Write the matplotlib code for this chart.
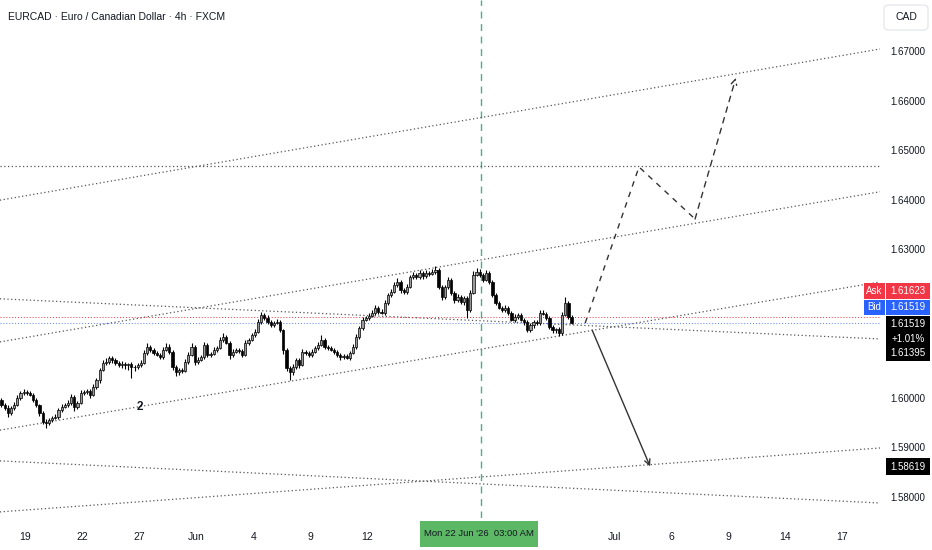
import matplotlib
matplotlib.use("Agg")
import matplotlib.pyplot as plt
import matplotlib.patches as patches
import numpy as np

# Dane świec EURCAD 4h, kolejne świece 4h
first_open = 1.5996
closes = [
    1.5986, 1.5980, 1.5970, 1.5980, 1.5986, 1.6000, 1.6010, 1.6012, 1.6010, 1.6006,
    1.5996, 1.5986, 1.5970, 1.5952, 1.5950, 1.5956, 1.5960, 1.5962, 1.5976, 1.5982,
    1.5986, 1.5990, 1.6002, 1.5982, 1.5990, 1.6010, 1.6012, 1.6014, 1.6006, 1.6022,
    1.6036, 1.6057, 1.6071, 1.6073, 1.6081, 1.6077, 1.6071, 1.6067, 1.6069, 1.6066,
    1.6068, 1.6063, 1.6062, 1.6067, 1.6071, 1.6091, 1.6103, 1.6097, 1.6091, 1.6087,
    1.6083, 1.6097, 1.6103, 1.6093, 1.6063, 1.6052, 1.6057, 1.6055, 1.6073, 1.6087,
    1.6103, 1.6073, 1.6077, 1.6083, 1.6107, 1.6087, 1.6089, 1.6097, 1.6101, 1.6117,
    1.6123, 1.6111, 1.6087, 1.6093, 1.6097, 1.6095, 1.6087, 1.6111, 1.6117, 1.6127,
    1.6133, 1.6154, 1.6168, 1.6162, 1.6154, 1.6147, 1.6152, 1.6154, 1.6137, 1.6097,
    1.6061, 1.6052, 1.6063, 1.6077, 1.6067, 1.6093, 1.6091, 1.6087, 1.6093, 1.6101,
    1.6107, 1.6117, 1.6103, 1.6101, 1.6097, 1.6093, 1.6087, 1.6083, 1.6085, 1.6081,
    1.6091, 1.6103, 1.6123, 1.6141, 1.6158, 1.6162, 1.6166, 1.6172, 1.6182, 1.6174,
    1.6172, 1.6192, 1.6208, 1.6214, 1.6228, 1.6234, 1.6218, 1.6214, 1.6224, 1.6243,
    1.6249, 1.6243, 1.6253, 1.6245, 1.6253, 1.6251, 1.6255, 1.6259, 1.6224, 1.6204,
    1.6224, 1.6238, 1.6212, 1.6198, 1.6204, 1.6194, 1.6202, 1.6178, 1.6212, 1.6249,
    1.6255, 1.6249, 1.6238, 1.6253, 1.6234, 1.6208, 1.6192, 1.6182, 1.6178, 1.6182,
    1.6172, 1.6158, 1.6164, 1.6168, 1.6158, 1.6154, 1.6137, 1.6147, 1.6154, 1.6152,
    1.6172, 1.6170, 1.6162, 1.6143, 1.6137, 1.6139, 1.6131, 1.6168, 1.6192, 1.6164,
    1.61519,
]
# knoty (w pipsach) ponad / poniżej korpusu
upper_wick = [
    4, 3, 5, 4, 6, 5, 4, 6, 3, 4,
    3, 4, 2, 3, 5, 4, 3, 6, 4, 5,
    4, 6, 5, 3, 4, 5, 4, 3, 4, 6,
    5, 4, 6, 8, 4, 3, 4, 3, 5, 4,
    3, 4, 3, 4, 5, 6, 8, 4, 3, 4,
    3, 5, 8, 6, 3, 4, 3, 4, 5, 6,
    7, 4, 5, 4, 6, 3, 4, 5, 4, 6,
    8, 4, 3, 5, 4, 3, 4, 6, 4, 5,
    6, 5, 6, 4, 5, 3, 4, 5, 4, 3,
    3, 4, 5, 4, 3, 6, 4, 3, 5, 4,
    6, 10, 4, 3, 4, 3, 4, 3, 4, 3,
    4, 5, 6, 4, 5, 4, 5, 6, 6, 4,
    5, 6, 4, 5, 6, 8, 4, 3, 5, 6,
    5, 4, 6, 4, 5, 4, 5, 8, 4, 3,
    4, 6, 3, 4, 5, 4, 3, 4, 6, 8,
    8, 6, 4, 5, 4, 3, 4, 3, 4, 5,
    3, 4, 5, 4, 3, 4, 3, 5, 4, 3,
    6, 5, 4, 3, 4, 3, 4, 6, 12, 4,
    3,
]
lower_wick = [
    5, 4, 8, 5, 4, 3, 4, 5, 4, 3,
    4, 5, 6, 5, 10, 4, 5, 3, 4, 4,
    3, 5, 4, 8, 4, 3, 4, 5, 6, 3,
    4, 5, 3, 4, 5, 6, 4, 5, 6, 8,
    10, 22, 8, 4, 5, 3, 4, 5, 4, 3,
    5, 4, 3, 4, 6, 8, 5, 4, 3, 4,
    3, 6, 4, 3, 4, 5, 4, 3, 4, 3,
    4, 3, 8, 4, 3, 5, 4, 3, 4, 3,
    4, 3, 4, 5, 4, 3, 4, 3, 4, 8,
    6, 16, 5, 4, 6, 3, 4, 5, 4, 3,
    4, 3, 5, 4, 3, 4, 5, 6, 4, 3,
    4, 3, 4, 5, 4, 3, 4, 3, 5, 4,
    3, 4, 5, 4, 3, 4, 6, 5, 4, 3,
    4, 3, 4, 5, 3, 4, 3, 4, 5, 6,
    4, 5, 4, 6, 5, 4, 6, 16, 4, 3,
    4, 5, 4, 3, 4, 5, 4, 3, 5, 4,
    4, 3, 5, 4, 3, 6, 4, 3, 5, 4,
    4, 3, 5, 4, 6, 5, 6, 4, 3, 4,
    3,
]

# oś czasu: dni handlowe od 19 maja, 6 świec 4h na dzień
tick_days = [0, 3, 6, 9, 12, 15, 18, 31, 34, 37, 40, 43]
tick_labels = ['19', '22', '27', 'Jun', '4', '9', '12', 'Jul', '6', '9', '14', '17']
crosshair_day = 24
crosshair_text = "Mon 22 Jun '26  03:00 AM"

price_ticks = [1.58, 1.59, 1.60, 1.63, 1.64, 1.65, 1.66, 1.67]
ask_price = 1.61623
bid_price = 1.61519
last_price = 1.61519
change_pct = '+1.01%'
other_price = 1.61395
target_price = 1.58619

# linie trendu (indeks świecy, cena)
trend_lines = [
    [(-0.5, 1.6399), (277.4, 1.6704)],
    [(-0.5, 1.6467), (277.4, 1.6467)],
    [(-0.5, 1.6113), (277.4, 1.6416)],
    [(-0.5, 1.5935), (277.4, 1.6234)],
    [(-0.5, 1.6200), (277.4, 1.6119)],
    [(-0.5, 1.5873), (277.4, 1.5788)],
    [(-0.5, 1.5770), (277.4, 1.5899)],
]
bull_path_x = [184.3, 201.3, 219.0, 231.9]
bull_path_y = [1.6151, 1.6466, 1.6361, 1.6646]
bear_arrow_x = [186.5, 204.8]
bear_arrow_y = [1.6137, 1.58619]
wave_label = ('2', 43.7, 1.5982)

W, H = 932, 550
FONT = ['Liberation Sans', 'DejaVu Sans']
TXT = '#131722'

fig = plt.figure(figsize=(W / 100, H / 100), dpi=100)
fig.patch.set_facecolor('white')
ax = fig.add_axes([0, 32 / H, 880 / W, 518 / H])
ax.set_facecolor('white')

def fx(px):
    return px / W

def fy(py):
    return 1 - py / H

# świece
n = len(closes)
opens = [first_open] + closes[:-1]
xs = np.arange(n)
o = np.array(opens)
c = np.array(closes)
top = np.maximum(o, c)
bot = np.minimum(o, c)
hi = top + np.array(upper_wick) * 1e-4
lo = bot - np.array(lower_wick) * 1e-4
up = c >= o
ax.vlines(xs, lo, hi, color='black', lw=0.8, zorder=3)
heights = np.maximum(top - bot, 0.0001)
ax.bar(xs, heights, bottom=bot, width=0.72,
       color=np.where(up, '#9a9a9a', '#000000'), edgecolor='black', linewidth=0.5, zorder=4)

# linie trendu
for seg in trend_lines:
    ax.plot([seg[0][0], seg[1][0]], [seg[0][1], seg[1][1]], color='#555555',
            lw=0.9, linestyle=(0, (1, 2)), zorder=2)

# linie ask / bid
ax.axhline(ask_price, color='#f23645', lw=0.7, linestyle=(0, (1, 2)), zorder=2)
ax.axhline(bid_price, color='#2962ff', lw=0.7, linestyle=(0, (1, 2)), alpha=0.8, zorder=2)

# crosshair
cross_x = 7.5 + 6 * crosshair_day
ax.axvline(cross_x, color='#26a17a', lw=1.0, linestyle=(0, (5, 4)), alpha=0.85, zorder=1)

# scenariusze
ax.plot(bull_path_x[:-1], bull_path_y[:-1], color='#333333', lw=1, linestyle=(0, (4, 4)), zorder=5)
ax.annotate('', xy=(bull_path_x[-1], bull_path_y[-1]), xytext=(bull_path_x[-2], bull_path_y[-2]),
            arrowprops=dict(arrowstyle='->', color='#333333', lw=1, linestyle=(0, (4, 4)),
                            shrinkA=0, shrinkB=0), zorder=5)
ax.annotate('', xy=(bear_arrow_x[1], bear_arrow_y[1]), xytext=(bear_arrow_x[0], bear_arrow_y[0]),
            arrowprops=dict(arrowstyle='->', color='#333333', lw=1, shrinkA=0, shrinkB=0), zorder=5)
ax.text(wave_label[1], wave_label[2], wave_label[0], fontsize=8.5, fontweight='bold',
        color=TXT, ha='center', va='center', family=FONT, zorder=6)

ax.set_xlim(-0.47, 277.4)
ax.set_ylim(1.575771, 1.680291)
for s in ax.spines.values():
    s.set_visible(False)

ax.set_xticks([7.5 + 6 * d for d in tick_days])
ax.set_xticklabels(tick_labels, fontsize=7.5, color=TXT, family=FONT)
ax.tick_params(axis='x', length=0, pad=10)
ax.yaxis.tick_right()
ax.set_yticks(price_ticks)
ax.set_yticklabels([f'{p:.5f}' for p in price_ticks], fontsize=7, color=TXT, family=FONT)
ax.tick_params(axis='y', length=0, pad=7.5)

# tytuł
fig.text(fx(8), fy(17), 'EURCAD · Euro / Canadian Dollar · 4h · FXCM', fontsize=7.5,
         color=TXT, ha='left', va='center', family=FONT)

def box(x0, y0, x1, y1, color, edge='none', rounded=False):
    if rounded:
        p = patches.FancyBboxPatch((fx(x0), fy(y1)), fx(x1) - fx(x0), fy(y0) - fy(y1),
                                   boxstyle='round,pad=0,rounding_size=0.006',
                                   transform=fig.transFigure, facecolor=color, edgecolor=edge, lw=0.8)
    else:
        p = patches.Rectangle((fx(x0), fy(y1)), fx(x1) - fx(x0), fy(y0) - fy(y1),
                              transform=fig.transFigure, facecolor=color, edgecolor=edge, lw=0.8)
    fig.add_artist(p)

def label(x, y, s, color='white', size=7, ha='center'):
    fig.text(fx(x), fy(y), s, fontsize=size, color=color, ha=ha, va='center', family=FONT)

# waluta
box(884, 5, 928, 30, 'white', edge='#e0e3eb', rounded=True)
label(906, 17.5, 'CAD', color=TXT, size=7.5)

# etykiety ask / bid / ostatnia cena
box(864, 283, 885, 299, '#f23645')
box(886, 283, 930, 299, '#f23645')
label(874.5, 291, 'Ask')
label(908, 291, f'{ask_price:.5f}')
box(864, 300, 885, 315, '#2962ff')
box(886, 300, 930, 315, '#2962ff')
label(874.5, 307.5, 'Bid')
label(908, 307.5, f'{bid_price:.5f}')
box(886, 316, 930, 361, '#000000')
label(908, 324, f'{last_price:.5f}')
label(908, 338.5, change_pct)
label(908, 353, f'{other_price:.5f}')
box(886, 458, 930, 475, '#000000')
label(908, 466.5, f'{target_price:.5f}')

# etykieta crosshair
box(420, 521, 538, 547, '#5cb865')
label(479, 534, crosshair_text, color=TXT, size=6.8)

fig.savefig('out.png', dpi=100, facecolor='white')
